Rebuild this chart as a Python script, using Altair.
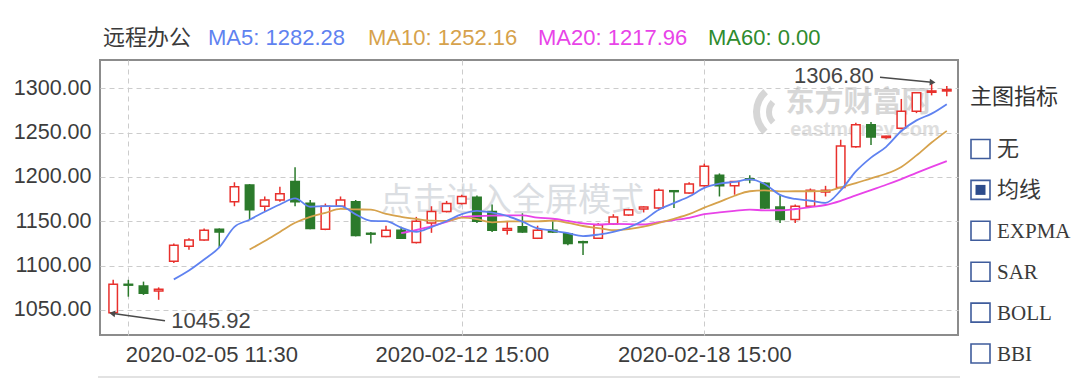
import altair as alt
import pandas as pd

# ---------------- data ----------------
candle_index = list(range(56))
open_p = [1047, 1079, 1077, 1071.5, 1105, 1122, 1129, 1141, 1172, 1191,
          1167, 1174, 1195, 1170.5, 1141, 1167, 1172, 1136.5, 1133, 1140,
          1126, 1148, 1161, 1170, 1177, 1161, 1140, 1144, 1131, 1140,
          1136, 1127, 1131, 1147, 1157, 1164, 1165, 1184.5, 1182, 1190,
          1202, 1190, 1198, 1193, 1166, 1152, 1167, 1183, 1188, 1234,
          1259, 1244.5, 1255, 1274, 1295.5, 1297]
high_p = [1084, 1084, 1082, 1075.5, 1125, 1131, 1142, 1142, 1194, 1192,
          1178, 1189, 1211, 1174, 1170, 1178, 1174, 1138, 1145, 1144,
          1155, 1167, 1173, 1180, 1179, 1169, 1150, 1159, 1145, 1150,
          1137, 1128, 1148, 1158, 1164, 1167, 1187, 1185, 1194, 1215,
          1204, 1195.5, 1202, 1194, 1180, 1169, 1187, 1190, 1242, 1261,
          1262, 1246.5, 1288, 1295, 1306.8, 1302.5]
low_p = [1045.92, 1065, 1067, 1061.5, 1103, 1118, 1128, 1121, 1167, 1152,
         1161, 1172, 1167, 1141, 1140, 1166, 1133, 1125, 1132, 1130,
         1125, 1137, 1160, 1169, 1148, 1138, 1135, 1137, 1130, 1137,
         1123, 1112, 1130, 1146, 1156, 1160, 1164, 1165, 1181, 1189,
         1178, 1180, 1193, 1164, 1148, 1148, 1166, 1178, 1187, 1233,
         1236, 1243, 1254, 1272, 1292, 1291]
close_p = [1079, 1078, 1069, 1073.5, 1123, 1129, 1140, 1138, 1189, 1163,
           1174, 1181, 1172, 1142, 1167, 1174, 1134, 1135.5, 1140, 1131,
           1150, 1161, 1170, 1178, 1150, 1140, 1142, 1138, 1140, 1138,
           1125, 1126, 1146, 1155, 1163, 1166, 1185, 1183.5, 1192, 1212,
           1190, 1195, 1197, 1165, 1152, 1167, 1185, 1185, 1235, 1259,
           1245, 1246, 1274, 1295, 1297, 1298.5]

ma5 = [None] * 4 + [
    1084.5, 1094.5, 1106.9, 1120.7, 1143.8, 1151.8, 1160.8, 1169.0, 1175.8, 1166.4,
    1167.2, 1167.2, 1157.8, 1150.5, 1150.1, 1142.9, 1138.1, 1143.5, 1150.4, 1158.0,
    1161.8, 1159.8, 1156.0, 1149.6, 1142.0, 1139.6, 1136.6, 1133.4, 1135.0, 1138.0,
    1143.0, 1151.2, 1163.0, 1170.5, 1177.9, 1187.7, 1192.5, 1194.5, 1197.2, 1191.8,
    1179.8, 1175.2, 1173.2, 1170.8, 1184.8, 1206.2, 1221.8, 1234.0, 1251.8, 1263.8,
    1271.4, 1282.1]
ma10 = [None] * 9 + [
    1118.2, 1127.7, 1138.0, 1148.3, 1155.1, 1159.5, 1164.0, 1163.4, 1163.2, 1158.3,
    1155.1, 1152.7, 1150.7, 1150.5, 1154.1, 1152.4, 1148.9, 1149.8, 1150.0, 1150.0,
    1150.7, 1148.2, 1144.7, 1142.3, 1140.0, 1141.3, 1143.9, 1148.2, 1152.8, 1158.0,
    1165.4, 1171.9, 1178.8, 1183.9, 1184.9, 1183.8, 1183.9, 1183.9, 1184.0, 1188.3,
    1193.0, 1198.5, 1203.6, 1211.3, 1224.3, 1238.8, 1252.0]
ma20 = [None] * 19 + [
    1136.6, 1140.2, 1144.3, 1149.4, 1154.6, 1155.9, 1156.5, 1156.6, 1156.6, 1154.1,
    1152.9, 1150.4, 1147.7, 1146.4, 1147.0, 1146.8, 1146.4, 1149.0, 1151.4, 1154.0,
    1158.0, 1160.0, 1161.7, 1163.1, 1162.4, 1162.5, 1163.9, 1166.0, 1168.4, 1173.1,
    1179.2, 1185.2, 1191.2, 1197.6, 1204.6, 1211.3, 1217.9]

title_name = "远程办公"
header_texts = ["MA5: 1282.28", "MA10: 1252.16", "MA20: 1217.96", "MA60: 0.00"]
y_ticks = [1050, 1100, 1150, 1200, 1250, 1300]
x_tick_idx = [1, 23, 39]
x_tick_labels = ["2020-02-05 11:30", "2020-02-12 15:00", "2020-02-18 15:00"]
ann_idx = [0, 54]
ann_val = [1045.92, 1306.80]
panel_title = "主图指标"
panel_items = ["无", "均线", "EXPMA", "SAR", "BOLL", "BBI"]
panel_checked = "均线"

# ---------------- styles ----------------
RED = "#e8302c"
GREEN = "#2b7a2b"
C_MA5 = "#5f82f0"
C_MA10 = "#d6a24c"
C_MA20 = "#e843e8"
C_MA60 = "#2e8b2e"
TXT = "#3c3c3c"
SANS = "'Liberation Sans', 'Noto Sans CJK SC', sans-serif"
CJK = "'Noto Sans CJK SC', 'Liberation Sans', sans-serif"
SERIF = "'Liberation Serif', 'Noto Sans CJK SC', serif"

candles = pd.DataFrame({"idx": candle_index, "open": open_p, "high": high_p,
                        "low": low_p, "close": close_p})

def ma_frame(vals):
    return pd.DataFrame({"idx": candle_index, "v": vals}).dropna()

label_expr = " : ".join(
    f"datum.value == {i} ? '{t}'" for i, t in zip(x_tick_idx, x_tick_labels)) + " : ''"

xscale = alt.Scale(domain=[-0.54, 55.41], nice=False, zero=False)
yscale = alt.Scale(domain=[1021.8, 1331.9], nice=False, zero=False)
xaxis = alt.Axis(values=x_tick_idx, labelExpr=label_expr, title=None, ticks=False,
                 domain=False, grid=True, gridDash=[5, 4], gridColor="#cccccc",
                 labelFontSize=22, labelColor=TXT, labelFont=SANS, labelPadding=9,
                 labelFlush=30, labelFlushOffset=3, labelOverlap=False)
yaxis = alt.Axis(values=y_ticks, format=".2f", title=None, ticks=False, domain=False,
                 grid=True, gridDash=[5, 4], gridColor="#cccccc", labelFontSize=21.5,
                 labelColor=TXT, labelFont=SANS, labelPadding=9)

X = alt.X("idx:Q", scale=xscale, axis=xaxis)
up = "datum.close >= datum.open"

wicks = alt.Chart(candles).mark_rule(strokeWidth=1.5).encode(
    x=X,
    y=alt.Y("low:Q", scale=yscale, axis=yaxis),
    y2="high:Q",
    color=alt.condition(up, alt.value(RED), alt.value(GREEN)),
)
bodies = alt.Chart(candles).mark_bar(size=8.5, strokeWidth=1.5).encode(
    x=X,
    y=alt.Y("open:Q", scale=yscale, axis=yaxis),
    y2="close:Q",
    fill=alt.condition(up, alt.value("white"), alt.value(GREEN)),
    stroke=alt.condition(up, alt.value(RED), alt.value(GREEN)),
)

def ma_line(vals, color):
    return alt.Chart(ma_frame(vals)).mark_line(
        color=color, strokeWidth=1.8, interpolate="monotone").encode(
        x=X, y=alt.Y("v:Q", scale=yscale, axis=yaxis))

one = pd.DataFrame({"k": [0]})

def txt(s, x, y, size, color, font=SANS, align="left", weight="normal", opacity=1.0):
    return alt.Chart(one).mark_text(
        text=s, align=align, baseline="middle", fontSize=size, color=color,
        font=font, fontWeight=weight, opacity=opacity).encode(
        x=alt.value(x), y=alt.value(y))

def arc(cx, cy, r_in, r_out, t0, t1):
    return alt.Chart(one).mark_arc(color="#b5b5b5", opacity=0.55).encode(
        x=alt.value(cx), y=alt.value(cy), radius=alt.value(r_out), radius2=alt.value(r_in),
        theta=alt.value(t0), theta2=alt.value(t1))

# watermarks
wm = [
    txt("点击进入全屏模式", 412, 141, 33, "#cfd4d9", font=CJK, align="center", opacity=0.75),
    arc(684, 52, 24, 31, 3.9, 5.55),
    arc(684, 52, 12, 18, 3.95, 5.45),
    txt("东方财富网", 758, 43, 29, "#b8b8b8", font=CJK, align="center", weight="bold", opacity=0.55),
    txt("eastmoney.com", 765, 70, 20, "#c4c4c4", align="center", weight="bold", opacity=0.55),
]

# header
header = [txt(title_name, 3, -22, 22, "#3a3a3a", font=CJK)]
for s, xp, c in zip(header_texts, [108, 268, 438, 608], [C_MA5, C_MA10, C_MA20, C_MA60]):
    header.append(txt(s, xp, -22, 22, c))

# annotations
ann = pd.DataFrame({"idx": ann_idx, "val": ann_val, "label": [f"{v:.2f}" for v in ann_val]})
ann_layers = []
specs = [(0, 65, 260.7, "left", 58, 7, 278), (1, 780, 17.2, "right", -58, -6, 93)]
for row, ex, ey, al, dx, dy, ang in specs:
    d = ann.iloc[[row]]
    ann_layers.append(alt.Chart(d).mark_rule(color="#4a4a4a", strokeWidth=1.5).encode(
        x=X, y=alt.Y("val:Q", scale=yscale, axis=yaxis), x2=alt.value(ex), y2=alt.value(ey)))
    ann_layers.append(alt.Chart(d).mark_point(shape="triangle", filled=True, size=45,
                                              color="#4a4a4a", opacity=1, angle=ang).encode(
        x=X, y=alt.Y("val:Q", scale=yscale, axis=yaxis)))
    ann_layers.append(alt.Chart(d).mark_text(align=al, baseline="middle", fontSize=22,
                                             color="#454545", font=SANS, dx=dx, dy=dy).encode(
        x=X, y=alt.Y("val:Q", scale=yscale, axis=yaxis), text="label:N"))

# right panel
panel = [txt(panel_title, 870, 37, 22, "#333333", font=CJK)]
for k, item in enumerate(panel_items):
    cy = 89 + k * 40.9
    panel.append(alt.Chart(one).mark_rect(fill="white", stroke="#3f5c9c", strokeWidth=1.6).encode(
        x=alt.value(871), x2=alt.value(890), y=alt.value(cy - 9.5), y2=alt.value(cy + 9.5)))
    if item == panel_checked:
        panel.append(alt.Chart(one).mark_rect(fill="#2d4c8c").encode(
            x=alt.value(875.5), x2=alt.value(885.5), y=alt.value(cy - 5), y2=alt.value(cy + 5)))
    is_latin = item.isascii()
    panel.append(txt(item, 897, cy + (1 if is_latin else 0), 21 if is_latin else 22,
                     "#3a3a3a", font=SERIF if is_latin else CJK))

bottom_line = alt.Chart(one).mark_rule(color="#d9d9d9", strokeWidth=1.5).encode(
    x=alt.value(-2), x2=alt.value(860), y=alt.value(317), y2=alt.value(317))

chart = alt.layer(
    *wm, wicks, bodies,
    ma_line(ma20, C_MA20), ma_line(ma10, C_MA10), ma_line(ma5, C_MA5),
    *ann_layers, *header, *panel, bottom_line,
).properties(
    width=858, height=275,
    autosize=alt.AutoSizeParams(type="none"),
    padding={"left": 100, "top": 60, "right": 122, "bottom": 44},
    background="white",
).configure_view(stroke="#8c8c8c", strokeWidth=2)

chart.save("out.html", embed_options={"renderer": "svg", "actions": False})
